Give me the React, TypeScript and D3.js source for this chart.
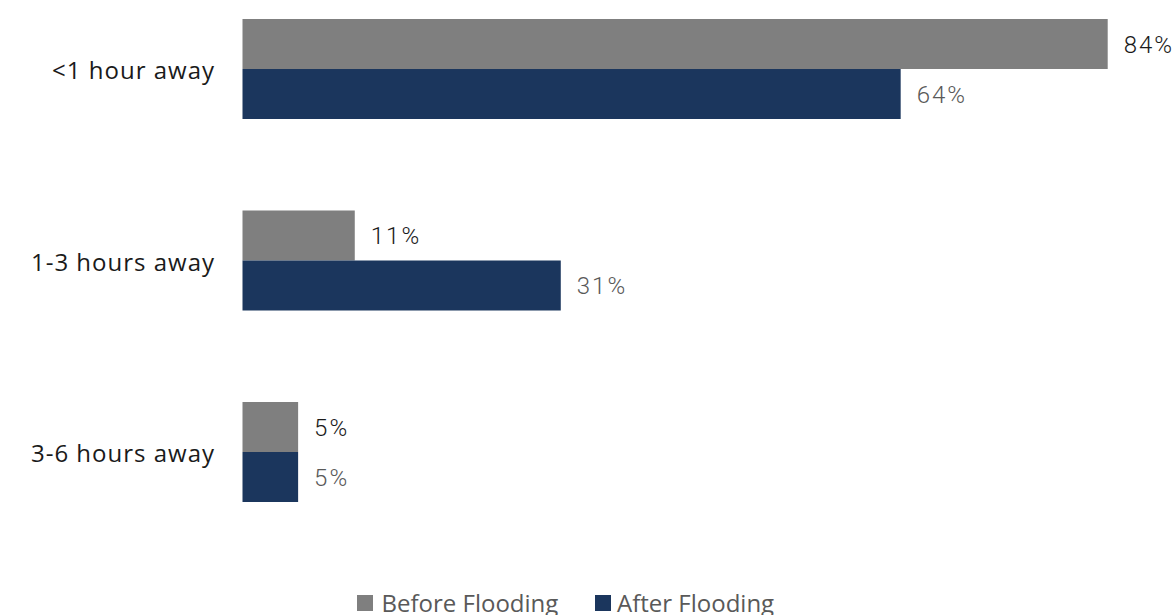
import React from "react";
import * as d3 from "d3";

const categories = ["<1 hour away", "1-3 hours away", "3-6 hours away"];
const seriesNames = ["Before Flooding", "After Flooding"];
const beforeValues = [84, 10.9, 5.4];
const afterValues = [63.9, 30.9, 5.4];
const colors = ["#7f7f7f", "#1b365d"];
const labelColors = ["#1a1a1a", "#595959"];

export default function App() {
  const W = 1175, H = 615;
  const x = d3.scaleLinear().domain([0, 100]).range([242.5, 1272.5]);
  const y = d3.scaleBand<string>().domain(categories).range([-26.75, 547.75]).paddingInner(0.4778).paddingOuter(0.2389);
  const ys = d3.scaleBand<string>().domain(seriesNames).range([0, y.bandwidth()]);
  const series = [beforeValues, afterValues];
  const fmt = (v: number) => `${Math.round(v)}%`;
  return (
    <svg width={W} height={H} style={{ position: "absolute", left: 0, top: 0, background: "#fff" }}>
      {categories.map((c, i) => (
        <g key={c} transform={`translate(0,${y(c)})`}>
          <text x={215} y={y.bandwidth() / 2} dy="0.42em" textAnchor="end" fontFamily="'Open Sans', sans-serif" fontSize={24} fill="#1a1a1a" letterSpacing={1}>{c}</text>
          {seriesNames.map((s, j) => {
            const v = series[j][i];
            return (
              <g key={s}>
                <rect x={x(0)} y={ys(s)} width={x(v) - x(0)} height={ys.bandwidth()} fill={colors[j]} />
                <text x={x(v) + 16} y={(ys(s) as number) + ys.bandwidth() / 2} dy="0.37em" fontFamily="Roboto, sans-serif" fontWeight={300} fontSize={24} fill={labelColors[j]} letterSpacing={2}>{fmt(v)}</text>
              </g>
            );
          })}
        </g>
      ))}
      <g>
        <rect x={357} y={595} width={16} height={16} fill={colors[0]} />
        <text x={381.5} y={612} fontFamily="'Open Sans', sans-serif" fontSize={24} fill="#595959">{seriesNames[0]}</text>
        <rect x={595} y={595} width={16} height={16} fill={colors[1]} />
        <text x={617} y={612} fontFamily="'Open Sans', sans-serif" fontSize={24} fill="#595959">{seriesNames[1]}</text>
      </g>
    </svg>
  );
}
